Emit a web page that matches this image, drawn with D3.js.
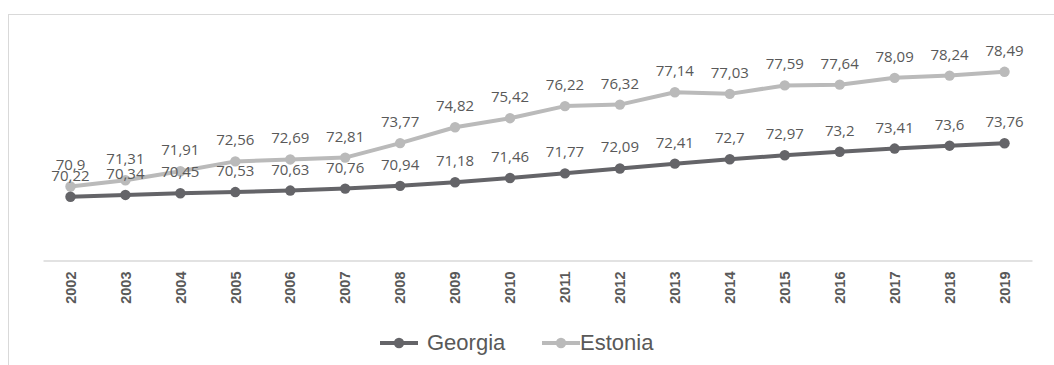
<!DOCTYPE html>
<html>
<head>
<meta charset="utf-8">
<script src="https://cdn.jsdelivr.net/npm/d3@7"></script>
<style>
  html, body { margin: 0; padding: 0; background: #fff; }
  svg { display: block; }
</style>
</head>
<body>
<svg id="chart" width="1054" height="365"></svg>
<script>
// Life expectancy at birth, 2002–2019
const years = ["2002","2003","2004","2005","2006","2007","2008","2009","2010",
               "2011","2012","2013","2014","2015","2016","2017","2018","2019"];
const georgia = [70.22,70.34,70.45,70.53,70.63,70.76,70.94,71.18,71.46,
                 71.77,72.09,72.41,72.7,72.97,73.2,73.41,73.6,73.76];
const estonia = [70.9,71.31,71.91,72.56,72.69,72.81,73.77,74.82,75.42,
                 76.22,76.32,77.14,77.03,77.59,77.64,78.09,78.24,78.49];
const seriesNames = ["Georgia", "Estonia"];
const seriesColors = ["#646468", "#bababa"];
const yDomain = [66, 80];

const svg = d3.select("#chart");
const textColor = "#595959";

// Chart frame
svg.append("rect")
  .attr("x", 8.5).attr("y", 14.5)
  .attr("width", 1100).attr("height", 400)
  .attr("fill", "none").attr("stroke", "#d9d9d9").attr("stroke-width", 1);

const x = d3.scaleBand().domain(years).range([43, 1032]);
const y = d3.scaleLinear().domain(yDomain).range([260.5, 49]);
const cx = d => x(d) + x.bandwidth() / 2;

// Category axis
const xAxis = svg.append("g")
  .attr("transform", "translate(0,260.5)")
  .call(d3.axisBottom(x).tickSize(0).tickPadding(0));
xAxis.select(".domain").attr("stroke", "#d9d9d9").attr("stroke-width", 1.3);
xAxis.selectAll("text")
  .attr("transform", "rotate(-90)")
  .attr("text-anchor", "end")
  .attr("x", -11)
  .attr("y", 0)
  .attr("dy", "0.36em")
  .attr("fill", textColor)
  .style("font-family", "'Liberation Sans', Arial, sans-serif")
  .style("font-size", "14.5px")
  .style("font-weight", "bold");

const series = [georgia, estonia];
const line = d3.line().x((d, i) => cx(years[i])).y(d => y(d));

// Draw lighter series underneath, then darker on top
[1, 0].forEach(s => {
  const g = svg.append("g");
  g.append("path")
    .datum(series[s])
    .attr("d", line)
    .attr("fill", "none")
    .attr("stroke", seriesColors[s])
    .attr("stroke-width", 4)
    .attr("stroke-linejoin", "round");
  g.selectAll("circle")
    .data(series[s])
    .join("circle")
    .attr("cx", (d, i) => cx(years[i]))
    .attr("cy", d => y(d))
    .attr("r", 5.2)
    .attr("fill", seriesColors[s]);
});

// Value labels
const fmt = v => String(v).replace(".", ",");
[1, 0].forEach(s => {
  svg.append("g").selectAll("text")
    .data(series[s])
    .join("text")
    .attr("x", (d, i) => cx(years[i]))
    .attr("y", d => y(d) - 16)
    .attr("text-anchor", "middle")
    .attr("fill", textColor)
    .style("font-family", "'Open Sans', sans-serif")
    .style("font-size", "15px")
    .text(fmt);
});

// Legend
const legend = svg.append("g").style("font-family", "'Liberation Sans', Arial, sans-serif");
const legendItems = [
  { name: seriesNames[0], color: seriesColors[0], x0: 380, x1: 418, tx: 427 },
  { name: seriesNames[1], color: seriesColors[1], x0: 542, x1: 580, tx: 580 }
];
legendItems.forEach(it => {
  legend.append("line")
    .attr("x1", it.x0).attr("x2", it.x1)
    .attr("y1", 343).attr("y2", 343)
    .attr("stroke", it.color).attr("stroke-width", 4);
  legend.append("circle")
    .attr("cx", (it.x0 + it.x1) / 2).attr("cy", 343)
    .attr("r", 5.2).attr("fill", it.color);
  legend.append("text")
    .attr("x", it.tx).attr("y", 350)
    .attr("fill", textColor)
    .style("font-size", "22px")
    .text(it.name);
});
</script>
</body>
</html>
